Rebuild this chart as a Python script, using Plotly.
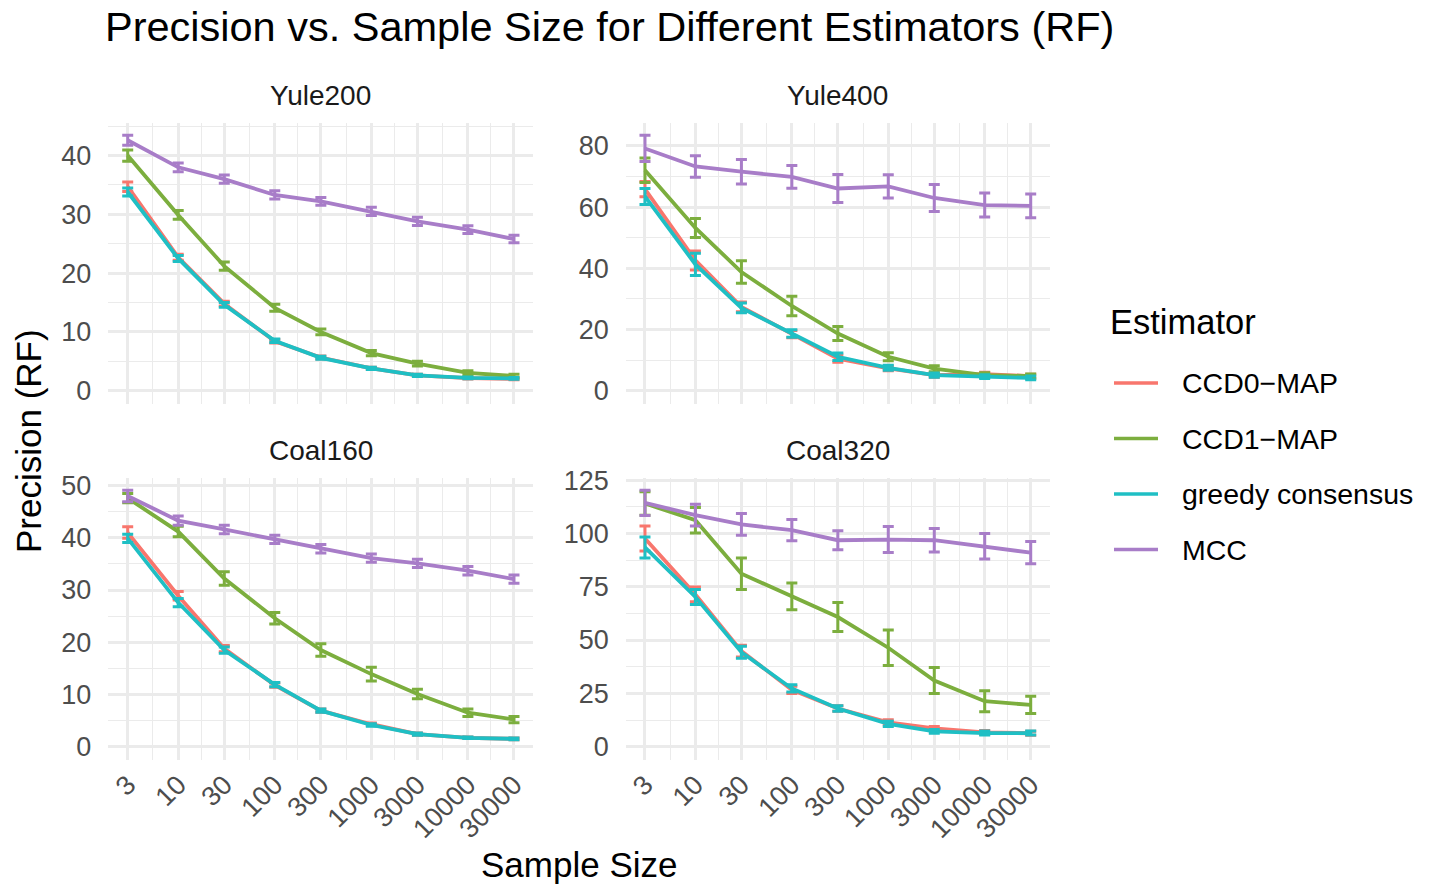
import math
import plotly.graph_objects as go

W, H = 1434, 884

sample_sizes = [3, 10, 30, 100, 300, 1000, 3000, 10000, 30000]
tick_labels = ["3", "10", "30", "100", "300", "1000", "3000", "10000", "30000"]
estimators = ["CCD0\u2212MAP", "CCD1\u2212MAP", "greedy consensus", "MCC"]
colors = ["#F8766D", "#7CAE3E", "#1FBFC4", "#A87DC8"]
panels = ["Yule200", "Yule400", "Coal160", "Coal320"]

# Yule200
yule200_ccd0 = [34.7, 22.7, 14.8, 8.4, 5.65, 3.8, 2.6, 2.15, 2.0]
yule200_ccd0_err = [0.8, 0.5, 0.4, 0.3, 0.25, 0.2, 0.2, 0.15, 0.15]
yule200_ccd1 = [40.0, 29.9, 21.2, 14.1, 10.0, 6.4, 4.6, 3.05, 2.5]
yule200_ccd1_err = [0.95, 0.75, 0.7, 0.6, 0.5, 0.45, 0.4, 0.35, 0.3]
yule200_greedy = [33.8, 22.5, 14.6, 8.5, 5.6, 3.8, 2.6, 2.2, 2.1]
yule200_greedy_err = [0.7, 0.5, 0.4, 0.3, 0.25, 0.2, 0.2, 0.15, 0.15]
yule200_mcc = [42.6, 38.0, 36.0, 33.3, 32.2, 30.5, 28.8, 27.4, 25.8]
yule200_mcc_err = [0.85, 0.75, 0.7, 0.7, 0.65, 0.7, 0.7, 0.65, 0.65]

# Yule400
yule400_ccd0 = [65.9, 42.6, 27.4, 18.5, 10.5, 7.3, 5.1, 5.4, 4.8]
yule400_ccd0_err = [2.5, 3.1, 1.6, 1.2, 1.2, 0.8, 0.7, 0.6, 0.6]
yule400_ccd1 = [72.1, 53.2, 38.8, 27.7, 18.7, 11.1, 7.2, 5.1, 4.8]
yule400_ccd1_err = [4.0, 3.1, 3.7, 3.2, 2.3, 1.3, 1.0, 0.8, 0.7]
yule400_greedy = [63.5, 41.3, 27.1, 18.7, 11.1, 7.5, 5.1, 4.6, 4.2]
yule400_greedy_err = [2.6, 3.6, 1.6, 1.2, 1.2, 0.8, 0.7, 0.6, 0.6]
yule400_mcc = [79.2, 73.3, 71.6, 69.9, 66.1, 66.8, 63.0, 60.7, 60.4]
yule400_mcc_err = [4.3, 3.5, 4.0, 3.7, 4.6, 3.8, 4.4, 3.9, 3.9]

# Coal160
coal160_ccd0 = [41.0, 28.9, 18.8, 11.8, 6.9, 4.3, 2.4, 1.7, 1.5]
coal160_ccd0_err = [1.1, 0.8, 0.6, 0.4, 0.3, 0.25, 0.2, 0.15, 0.15]
coal160_ccd1 = [47.6, 41.2, 32.2, 24.6, 18.5, 13.9, 10.1, 6.5, 5.2]
coal160_ccd1_err = [0.9, 1.0, 1.3, 1.1, 1.2, 1.3, 0.9, 0.7, 0.6]
coal160_greedy = [39.9, 27.6, 18.5, 11.9, 6.9, 4.15, 2.4, 1.7, 1.5]
coal160_greedy_err = [0.8, 0.8, 0.6, 0.4, 0.3, 0.25, 0.2, 0.15, 0.15]
coal160_mcc = [48.0, 43.3, 41.6, 39.7, 37.9, 36.1, 35.1, 33.7, 32.1]
coal160_mcc_err = [1.1, 0.9, 0.8, 0.8, 0.8, 0.8, 0.8, 0.8, 0.8]

# Coal320
coal320_ccd0 = [97.6, 71.4, 44.8, 26.6, 17.9, 11.4, 8.6, 6.7, 6.3]
coal320_ccd0_err = [5.9, 3.5, 2.8, 1.7, 1.3, 1.2, 0.9, 0.9, 0.9]
coal320_ccd1 = [114.0, 106.2, 81.1, 70.5, 60.8, 46.4, 31.0, 21.3, 19.6]
coal320_ccd1_err = [5.5, 6.0, 7.4, 6.3, 6.8, 8.3, 6.1, 4.9, 4.1]
coal320_greedy = [93.4, 70.2, 44.3, 27.3, 17.9, 10.7, 7.2, 6.4, 6.4]
coal320_greedy_err = [4.9, 3.5, 2.8, 1.7, 1.3, 1.2, 0.9, 0.9, 0.9]
coal320_mcc = [114.3, 108.6, 104.2, 101.5, 96.8, 97.1, 96.8, 94.0, 91.0]
coal320_mcc_err = [5.9, 5.1, 5.1, 5.0, 4.5, 6.1, 5.5, 6.0, 5.2]

panel_data = {
    "Yule200": [(yule200_ccd0, yule200_ccd0_err), (yule200_ccd1, yule200_ccd1_err),
                (yule200_greedy, yule200_greedy_err), (yule200_mcc, yule200_mcc_err)],
    "Yule400": [(yule400_ccd0, yule400_ccd0_err), (yule400_ccd1, yule400_ccd1_err),
                (yule400_greedy, yule400_greedy_err), (yule400_mcc, yule400_mcc_err)],
    "Coal160": [(coal160_ccd0, coal160_ccd0_err), (coal160_ccd1, coal160_ccd1_err),
                (coal160_greedy, coal160_greedy_err), (coal160_mcc, coal160_mcc_err)],
    "Coal320": [(coal320_ccd0, coal320_ccd0_err), (coal320_ccd1, coal320_ccd1_err),
                (coal320_greedy, coal320_greedy_err), (coal320_mcc, coal320_mcc_err)],
}
y_major = {"Yule200": 10, "Yule400": 20, "Coal160": 10, "Coal320": 25}

FONT = "Liberation Sans, Arial, sans-serif"
GRID = "#EBEBEB"
TICK_SIZE = 27

# panel geometry (pixels)
col_x = [(108.4, 533.3), (625.7, 1050.0)]
row_y = [(122.5, 403.5), (477.5, 759.5)]


def px_x(p):
    return p / W


def px_y(p):
    return 1 - p / H


fig = go.Figure()
layout = dict(
    template="none",
    width=W, height=H, autosize=False, margin=dict(l=0, r=0, t=0, b=0, pad=0),
    paper_bgcolor="white", plot_bgcolor="white", showlegend=False,
    font=dict(family=FONT, color="#000000"),
)
annotations = []
shapes = []

lx = [math.log10(s) for s in sample_sizes]
x_span = lx[-1] - lx[0]
x_range = [lx[0] - 0.05 * x_span, lx[-1] + 0.05 * x_span]
x_minor = [10 ** ((lx[i] + lx[i + 1]) / 2) for i in range(len(lx) - 1)]

for k, name in enumerate(panels):
    r, c = divmod(k, 2)
    ax = "" if k == 0 else str(k + 1)
    xa, ya = "x" + ax, "y" + ax
    series = panel_data[name]
    for (vals, errs), est, col in zip(series, estimators, colors):
        fig.add_trace(go.Scatter(
            x=sample_sizes, y=vals, mode="lines", name=est,
            line=dict(color=col, width=3.8),
            error_y=dict(type="data", array=errs, visible=True,
                         color=col, thickness=3, width=5.5),
            xaxis=xa, yaxis=ya, hoverinfo="x+y+name",
        ))
    lo = min(0, min(v - e for vals, errs in series for v, e in zip(vals, errs)))
    hi = max(v + e for vals, errs in series for v, e in zip(vals, errs))
    span = hi - lo
    y_range = [lo - 0.05 * span, hi + 0.05 * span]
    d = y_major[name]
    x0, x1 = col_x[c]
    y0, y1 = row_y[r]
    layout["xaxis" + ax] = dict(
        domain=[px_x(x0), px_x(x1)], anchor=ya, type="log", range=x_range,
        automargin=False,
        tickmode="array", tickvals=sample_sizes, ticktext=tick_labels,
        showticklabels=(r == 1), tickangle=-45,
        tickfont=dict(family=FONT, size=TICK_SIZE, color="#4D4D4D"),
        showgrid=True, gridcolor=GRID, gridwidth=2.6, zeroline=False,
        showline=False, ticks="", ticklabelstandoff=3,
        minor=dict(tickmode="array", tickvals=x_minor, showgrid=True,
                   gridcolor=GRID, gridwidth=1.4, ticks=""),
        fixedrange=True,
    )
    layout["yaxis" + ax] = dict(
        domain=[px_y(y1), px_y(y0)], anchor=xa, range=y_range,
        automargin=False,
        tickmode="linear", tick0=0, dtick=d,
        tickfont=dict(family=FONT, size=TICK_SIZE, color="#4D4D4D"),
        showgrid=True, gridcolor=GRID, gridwidth=2.6, zeroline=False,
        showline=False, ticks="", ticklabelstandoff=16,
        minor=dict(tickmode="linear", tick0=d / 2, dtick=d, showgrid=True,
                   gridcolor=GRID, gridwidth=1.4, ticks=""),
        fixedrange=True,
    )
    annotations.append(dict(
        text=name, x=px_x((x0 + x1) / 2), y=px_y(y0 - 27), xref="paper", yref="paper",
        xanchor="center", yanchor="middle", showarrow=False,
        font=dict(family=FONT, size=28, color="#1A1A1A"),
    ))

# titles
annotations.append(dict(
    text="Precision vs. Sample Size for Different Estimators (RF)",
    x=px_x(103), y=px_y(26), xref="paper", yref="paper", xanchor="left",
    yanchor="middle", showarrow=False, font=dict(family=FONT, size=41.5, color="#000000"),
))
annotations.append(dict(
    text="Sample Size", x=px_x(579), y=px_y(864), xref="paper", yref="paper",
    xanchor="center", yanchor="middle", showarrow=False,
    font=dict(family=FONT, size=35, color="#000000"),
))
annotations.append(dict(
    text="Precision (RF)", x=px_x(28), y=px_y(441), xref="paper", yref="paper",
    xanchor="center", yanchor="middle", textangle=-90, showarrow=False,
    font=dict(family=FONT, size=35, color="#000000"),
))

# legend (drawn by hand to match ggplot spacing)
annotations.append(dict(
    text="Estimator", x=px_x(1108), y=px_y(322), xref="paper", yref="paper",
    xanchor="left", yanchor="middle", showarrow=False,
    font=dict(family=FONT, size=34.5, color="#000000"),
))
leg_y = [383, 438.5, 494, 549.5]
for est, col, ly in zip(estimators, colors, leg_y):
    shapes.append(dict(type="line", xref="paper", yref="paper",
                       x0=px_x(1114), x1=px_x(1158), y0=px_y(ly), y1=px_y(ly),
                       line=dict(color=col, width=3.5)))
    annotations.append(dict(
        text=est, x=px_x(1180), y=px_y(ly), xref="paper", yref="paper",
        xanchor="left", yanchor="middle", showarrow=False,
        font=dict(family=FONT, size=28.5, color="#000000"),
    ))

layout["annotations"] = annotations
layout["shapes"] = shapes
fig.update_layout(**layout)
fig.write_html(
    "out.html",
    config={"displayModeBar": False},
    post_script="document.body.style.margin='0';document.body.style.overflow='hidden';",
)
